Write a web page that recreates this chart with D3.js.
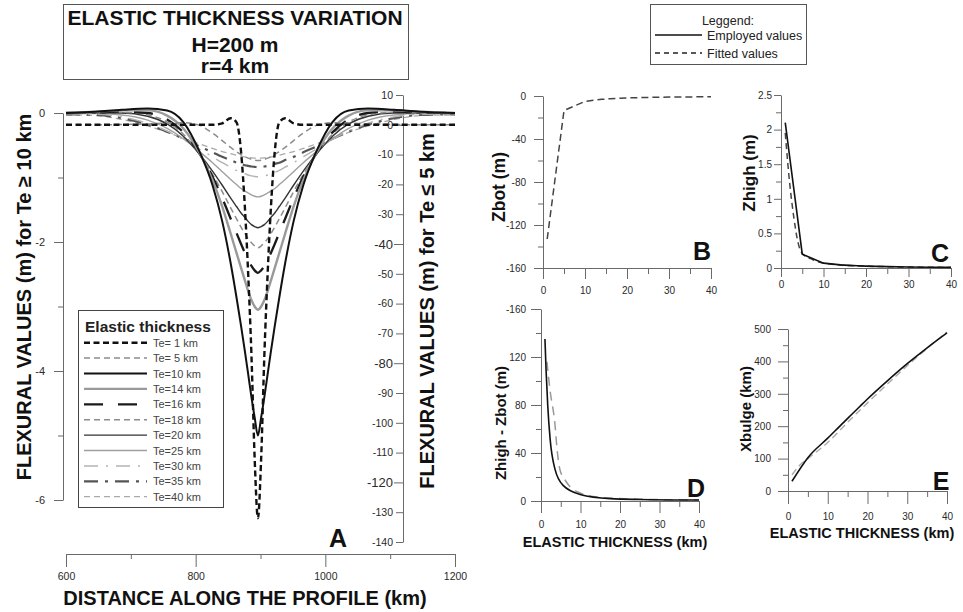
<!DOCTYPE html>
<html>
<head>
<meta charset="utf-8">
<script src="https://cdnjs.cloudflare.com/ajax/libs/d3/7.8.5/d3.min.js"></script>
<style>
  body { margin: 0; background: #fff; }
  svg { display: block; font-family: Arial, "Liberation Sans", sans-serif; }
</style>
</head>
<body>
<svg id="chart" width="963" height="612"></svg>
<script>
// ---- panel A: flexure profiles ----
var profileKm = [600, 646, 686, 726, 756, 781, 806, 826, 841, 854, 863, 870, 876, 881,
                 886, 891, 896, 901, 906, 911, 916, 922, 929, 938, 951, 966, 986, 1011,
                 1036, 1066, 1106, 1146, 1200];

// Te <= 5 km, right axis (m)
var te1 = [0, 0, 0, 0, 0, 0, 0, 0, 0.5, 2.2, 0.8, -9, -28, -50, -77, -112, -132,
           -112, -77, -50, -28, -9, 0.8, 2.2, 0.5, 0, 0, 0, 0, 0, 0, 0, 0];
var te5 = [0, 0, 0.1, 0.3, 0.6, 0.7, -0.2, -2.8, -5.3, -7.6, -9, -10, -10.7, -11.2, -11.6, -11.9, -12,
           -11.9, -11.6, -11.2, -10.7, -10, -9, -7.6, -5.3, -2.8, -0.2, 0.7, 0.6, 0.3, 0.1, 0, 0];
// Te >= 10 km, left axis (m)
var te10 = [0, 0.02, 0.05, 0.07, 0.04, -0.14, -0.6, -1.12, -1.68, -2.33, -2.86, -3.3, -3.7, -4.05, -4.4, -4.72, -5.0,
            -4.72, -4.4, -4.05, -3.7, -3.3, -2.86, -2.33, -1.68, -1.12, -0.6, -0.14, 0.04, 0.07, 0.05, 0.02, 0];
var te14 = [0, 0.02, 0.04, 0.04, -0.04, -0.24, -0.62, -1.04, -1.45, -1.87, -2.17, -2.4, -2.6, -2.76, -2.9, -3.0, -3.05,
            -3.0, -2.9, -2.76, -2.6, -2.4, -2.17, -1.87, -1.45, -1.04, -0.62, -0.24, -0.04, 0.04, 0.04, 0.02, 0];
var te16 = [0, 0.01, 0.02, 0, -0.1, -0.3, -0.63, -0.99, -1.32, -1.64, -1.86, -2.03, -2.17, -2.28, -2.37, -2.44, -2.48,
            -2.44, -2.37, -2.28, -2.17, -2.03, -1.86, -1.64, -1.32, -0.99, -0.63, -0.3, -0.1, 0, 0.02, 0.01, 0];
var te18 = [-0.01, 0, 0.01, -0.03, -0.14, -0.33, -0.64, -0.95, -1.22, -1.47, -1.64, -1.77, -1.87, -1.95, -2.01, -2.06, -2.09,
            -2.06, -2.01, -1.95, -1.87, -1.77, -1.64, -1.47, -1.22, -0.95, -0.64, -0.33, -0.14, -0.03, 0.01, 0, -0.01];
var te20 = [-0.01, 0, 0, -0.05, -0.17, -0.36, -0.64, -0.9, -1.12, -1.32, -1.45, -1.55, -1.62, -1.68, -1.73, -1.76, -1.78,
            -1.76, -1.73, -1.68, -1.62, -1.55, -1.45, -1.32, -1.12, -0.9, -0.64, -0.36, -0.17, -0.05, 0, 0, -0.01];
var te25 = [-0.01, -0.01, -0.03, -0.11, -0.24, -0.4, -0.6, -0.77, -0.91, -1.03, -1.11, -1.17, -1.21, -1.24, -1.27, -1.29, -1.3,
            -1.29, -1.27, -1.24, -1.21, -1.17, -1.11, -1.03, -0.91, -0.77, -0.6, -0.4, -0.24, -0.11, -0.03, -0.01, -0.01];
var te30 = [-0.02, -0.02, -0.06, -0.16, -0.28, -0.41, -0.56, -0.68, -0.77, -0.84, -0.89, -0.92, -0.94, -0.96, -0.975, -0.985, -0.99,
            -0.985, -0.975, -0.96, -0.94, -0.92, -0.89, -0.84, -0.77, -0.68, -0.56, -0.41, -0.28, -0.16, -0.06, -0.02, -0.02];
var te35 = [-0.02, -0.03, -0.08, -0.18, -0.29, -0.4, -0.52, -0.61, -0.68, -0.73, -0.77, -0.79, -0.81, -0.82, -0.83, -0.835, -0.84,
            -0.835, -0.83, -0.82, -0.81, -0.79, -0.77, -0.73, -0.68, -0.61, -0.52, -0.4, -0.29, -0.18, -0.08, -0.03, -0.02];
var te40 = [-0.03, -0.04, -0.1, -0.2, -0.3, -0.39, -0.48, -0.55, -0.6, -0.63, -0.655, -0.67, -0.68, -0.69, -0.695, -0.7, -0.7,
            -0.7, -0.695, -0.69, -0.68, -0.67, -0.655, -0.63, -0.6, -0.55, -0.48, -0.39, -0.3, -0.2, -0.1, -0.04, -0.03];

var profileNames = ['Te= 1 km', 'Te= 5 km', 'Te=10 km', 'Te=14 km', 'Te=16 km', 'Te=18 km',
                    'Te=20 km', 'Te=25 km', 'Te=30 km', 'Te=35 km', 'Te=40 km'];
var profiles = [te1, te5, te10, te14, te16, te18, te20, te25, te30, te35, te40];

// ---- panels B-E: parameters vs elastic thickness ----
var teEmployed = [1, 5, 10, 14, 16, 18, 20, 25, 30, 35, 40];
var zbotFitted = [-133, -13.5, -5, -3.1, -2.5, -2.1, -1.8, -1.3, -1.0, -0.85, -0.7];
var zhighEmployed = [2.1, 0.2, 0.07, 0.045, 0.038, 0.032, 0.027, 0.02, 0.014, 0.011, 0.009];
var teZhighFit = [1, 2, 3, 4, 5, 7.5, 10, 15, 20, 25, 30, 35, 40];
var zhighFitted = [1.95, 1.25, 0.74, 0.37, 0.21, 0.12, 0.07, 0.04, 0.026, 0.019, 0.013, 0.01, 0.008];
var teReliefEmp = [1, 1.3, 1.7, 2.3, 3.5, 5.6, 9.9, 17.5, 25, 40];
var reliefEmployed = [135, 108, 80, 52, 27, 13, 5.5, 2, 1.3, 0.8];
var teReliefFit = [1.5, 2.3, 3.5, 4.1, 4.8, 6.1, 7.3, 10, 15, 20, 30, 40];
var reliefFitted = [116, 92, 65, 42, 26, 17.5, 12, 6.5, 3, 2, 1.2, 0.8];
var xbulgeEmployed = [30, 103, 163, 212, 236, 260, 284, 340, 393, 442, 488];
var teXbulgeFit = [1, 3, 5, 10, 15, 20, 25, 30, 35, 40];
var xbulgeFitted = [50, 80, 100, 150, 212, 272, 330, 387, 440, 491];

(function () {
  'use strict';

  var FONT = 'Arial, "Liberation Sans", sans-serif';
  var TEXT = '#2a2a2a';
  var AXIS = '#6a6a6a';

  var curveStyles = [
    {color: '#111', width: 2.4, dash: '6,3.5'},
    {color: '#8c8c8c', width: 1.5, dash: '6,4'},
    {color: '#111', width: 2, dash: null},
    {color: '#9a9a9a', width: 2.4, dash: null},
    {color: '#1a1a1a', width: 2.3, dash: '19,15'},
    {color: '#8c8c8c', width: 1.5, dash: '6,4'},
    {color: '#333', width: 1.4, dash: null},
    {color: '#a0a0a0', width: 1.4, dash: null},
    {color: '#b4b4b4', width: 1.5, dash: '14,8,2,8'},
    {color: '#555', width: 2.2, dash: '14,7,3,7'},
    {color: '#aaa', width: 1.3, dash: '6,4'}
  ];

  var svg = d3.select('#chart');
  svg.append('rect').attr('width', 963).attr('height', 612).attr('fill', '#fff');

  function styleAxis(g, fontSize) {
    g.attr('font-family', FONT);
    g.select('.domain').attr('stroke', AXIS).attr('stroke-width', 1);
    g.selectAll('.tick line').attr('stroke', AXIS);
    g.selectAll('.tick text').attr('fill', TEXT).style('font-size', fontSize + 'px');
  }

  function addAxis(maker, scale, translate, major, minor, opts) {
    if (minor && minor.length) {
      svg.append('g')
        .attr('transform', translate)
        .call(maker(scale).tickValues(minor).tickSize(opts.minorLen)
              .tickSizeOuter(0).tickFormat(''))
        .call(function(g) {
          styleAxis(g, opts.font);
          g.select('.domain').remove();
        });
    }
    var g = svg.append('g')
      .attr('transform', translate)
      .call(maker(scale).tickValues(major).tickSize(opts.majorLen)
            .tickSizeOuter(0).tickPadding(opts.pad)
            .tickFormat(opts.fmt || function(d) { return String(d); }));
    styleAxis(g, opts.font);
    return g;
  }

  function text(x, y, str, size, opts) {
    opts = opts || {};
    var t = svg.append('text')
      .attr('x', x)
      .attr('y', y)
      .attr('font-size', size)
      .attr('font-weight', opts.bold ? 'bold' : 'normal')
      .attr('text-anchor', opts.anchor || 'middle')
      .attr('fill', opts.color || TEXT)
      .text(str);
    if (opts.rotate) {
      t.attr('transform', 'rotate(-90,' + x + ',' + y + ')');
    }
    return t;
  }

  function strokeStyle(sel, st) {
    sel.attr('fill', 'none')
      .attr('stroke', st.color)
      .attr('stroke-width', st.width)
      .attr('stroke-dasharray', st.dash);
  }

  // ---------------- panel A ----------------
  var xA = d3.scaleLinear().domain([600, 1200]).range([66, 455]);
  var yL = d3.scaleLinear().domain([-6, 0]).range([500, 113]);
  var yR = d3.scaleLinear().domain([-140, 10]).range([542, 95]);

  // title box
  svg.append('rect')
    .attr('x', 63.5).attr('y', 4.5).attr('width', 345).attr('height', 75)
    .attr('fill', '#fff').attr('stroke', '#555');
  text(235, 25, 'ELASTIC THICKNESS VARIATION', 21, {bold: true, color: '#111'});
  text(235, 51.5, 'H=200 m', 21, {bold: true, color: '#111'});
  text(235, 73, 'r=4 km', 21, {bold: true, color: '#111'});

  addAxis(d3.axisLeft, yL, 'translate(63,0)', [-6, -4, -2, 0], [-5, -3, -1],
          {majorLen: 9, minorLen: 5, pad: 9, font: 11});
  var rightAx = addAxis(d3.axisLeft, yR, 'translate(403,0)',
          d3.range(-140, 11, 10), [],
          {majorLen: 7, minorLen: 0, pad: 3, font: 10.5});
  rightAx.selectAll('.tick')
    .filter(function(d) { return d === -40 || d === -80 || d === -120; })
    .call(function(t) {
      t.select('text').style('font-size', '13px');
      t.select('line').attr('x2', -9);
    });
  addAxis(d3.axisBottom, xA, 'translate(0,554)', [600, 800, 1000, 1200], [700, 900, 1100],
          {majorLen: 13, minorLen: 5, pad: 6, font: 10.5});

  var profileGroup = svg.append('g');
  for (var k = profiles.length - 1; k >= 0; k--) {
    var yScale = k < 2 ? yR : yL;
    var line = d3.line()
      .x(function(d, i) { return xA(profileKm[i]); })
      .y((function(s) { return function(d) { return s(d); }; })(yScale))
      .curve(d3.curveMonotoneX);
    profileGroup.append('path')
      .attr('d', line(profiles[k]))
      .call(strokeStyle, curveStyles[k]);
  }

  text(31, 297, 'FLEXURAL VALUES (m) for Te \u2265 10 km', 20, {bold: true, rotate: true, color: '#111'});
  text(434, 311, 'FLEXURAL VALUES (m) for Te \u2264 5 km', 20, {bold: true, rotate: true, color: '#111'});
  text(245, 605, 'DISTANCE ALONG THE PROFILE (km)', 20, {bold: true, color: '#111'});
  text(338, 547, 'A', 25, {bold: true, color: '#111'});

  // legend of panel A
  svg.append('rect')
    .attr('x', 78.5).attr('y', 310.5).attr('width', 145).attr('height', 197)
    .attr('fill', '#fff').attr('stroke', '#444');
  text(85, 331.5, 'Elastic thickness', 15.5, {bold: true, anchor: 'start', color: '#222'});
  var legRows = svg.append('g').selectAll('g')
    .data(profileNames)
    .enter().append('g')
    .attr('transform', function(d, i) { return 'translate(0,' + (342.7 + i * 15.4) + ')'; });
  legRows.append('line')
    .attr('x1', 84).attr('x2', 147).attr('y1', 0).attr('y2', 0)
    .each(function(d, i) { d3.select(this).call(strokeStyle, curveStyles[i]); });
  legRows.append('text')
    .attr('x', 153).attr('y', 4)
    .attr('font-size', 11)
    .attr('fill', '#444')
    .text(function(d) { return d; });

  // ---------------- top-right legend ----------------
  svg.append('rect')
    .attr('x', 650.5).attr('y', 4.5).attr('width', 156).attr('height', 60)
    .attr('fill', '#fff').attr('stroke', '#555');
  text(728, 25, 'Leggend:', 12.5, {color: '#222'});
  svg.append('line').attr('x1', 655).attr('x2', 702).attr('y1', 35).attr('y2', 35)
    .attr('stroke', '#111').attr('stroke-width', 1.4);
  text(707, 40, 'Employed values', 12.5, {anchor: 'start', color: '#222'});
  svg.append('line').attr('x1', 655).attr('x2', 702).attr('y1', 53).attr('y2', 53)
    .attr('stroke', '#222').attr('stroke-width', 1.4).attr('stroke-dasharray', '5,4');
  text(707, 58, 'Fitted values', 12.5, {anchor: 'start', color: '#222'});

  // ---------------- small panels ----------------
  function drawPanel(p) {
    addAxis(d3.axisLeft, p.y, 'translate(' + p.x.range()[0] + ',0)', p.yMajor, p.yMinor,
            {majorLen: p.yTick, minorLen: 5, pad: p.yPad, font: 10, fmt: p.yFmt});
    addAxis(d3.axisBottom, p.x, 'translate(0,' + p.y.range()[0] + ')',
            [0, 10, 20, 30, 40], [5, 15, 25, 35],
            {majorLen: p.xTick, minorLen: 6, pad: p.xPad, font: 10});
    p.series.forEach(function(s) {
      var line = d3.line()
        .x(function(d, i) { return p.x(s.te[i]); })
        .y(function(d) { return p.y(d); })
        .curve(s.curve || d3.curveLinear);
      svg.append('path')
        .attr('d', line(s.values))
        .call(strokeStyle, s.style);
    });
    text(p.labelX, p.labelY, p.label, p.labelSize, {bold: true, rotate: true, color: '#111'});
    text(p.letterX, p.letterY, p.letter, 25, {bold: true, color: '#111'});
    if (p.xTitle) {
      text(p.xTitleX, p.xTitleY, 'ELASTIC THICKNESS (km)', 14.5, {bold: true, color: '#111'});
    }
  }

  var employedStyle = {color: '#111', width: 1.6, dash: null};

  // B
  drawPanel({
    x: d3.scaleLinear().domain([0, 40]).range([543, 711]),
    y: d3.scaleLinear().domain([-160, 0]).range([268, 96]),
    yMajor: [-160, -120, -80, -40, 0], yMinor: [-140, -100, -60, -20],
    yTick: 9, yPad: 8, xTick: 11, xPad: 8,
    series: [{te: teEmployed, values: zbotFitted,
              style: {color: '#444', width: 1.5, dash: '7,4'}}],
    label: 'Zbot (m)', labelSize: 17.5, labelX: 505, labelY: 187,
    letter: 'B', letterX: 702, letterY: 260
  });

  // C
  drawPanel({
    x: d3.scaleLinear().domain([0, 40]).range([781, 951]),
    y: d3.scaleLinear().domain([0, 2.5]).range([268, 95]),
    yMajor: [0, 0.5, 1, 1.5, 2, 2.5], yMinor: [0.25, 0.75, 1.25, 1.75, 2.25],
    yTick: 7, yPad: 2, xTick: 9, xPad: 4,
    series: [
      {te: teZhighFit, values: zhighFitted, curve: d3.curveMonotoneX,
       style: {color: '#444', width: 1.5, dash: '6,4'}},
      {te: teEmployed, values: zhighEmployed, style: employedStyle}
    ],
    label: 'Zhigh    (m)', labelSize: 17, labelX: 755, labelY: 173,
    letter: 'C', letterX: 940, letterY: 262
  });

  // D
  drawPanel({
    x: d3.scaleLinear().domain([0, 40]).range([541, 699]),
    y: d3.scaleLinear().domain([0, 160]).range([501, 309]),
    yMajor: [0, 40, 80, 120, 160], yMinor: [20, 60, 100, 140],
    yFmt: function(d) { return d === 160 ? '-160' : String(d); },
    yTick: 10, yPad: 5, xTick: 12, xPad: 8,
    series: [
      {te: teReliefFit, values: reliefFitted, curve: d3.curveMonotoneX,
       style: {color: '#999', width: 1.5, dash: '9,6'}},
      {te: teReliefEmp, values: reliefEmployed, curve: d3.curveMonotoneX, style: employedStyle}
    ],
    label: 'Zhigh - Zbot (m)', labelSize: 15, labelX: 506, labelY: 423,
    letter: 'D', letterX: 696, letterY: 497,
    xTitle: true, xTitleX: 615, xTitleY: 547
  });

  // E
  drawPanel({
    x: d3.scaleLinear().domain([0, 40]).range([788, 947]),
    y: d3.scaleLinear().domain([0, 500]).range([491, 329]),
    yMajor: [0, 100, 200, 300, 400, 500], yMinor: [50, 150, 250, 350, 450],
    yTick: 10, yPad: 7, xTick: 13, xPad: 9,
    series: [
      {te: teXbulgeFit, values: xbulgeFitted, curve: d3.curveMonotoneX,
       style: {color: '#aaa', width: 1.4, dash: '7,4'}},
      {te: teEmployed, values: xbulgeEmployed, curve: d3.curveMonotoneX, style: employedStyle}
    ],
    label: 'Xbulge (km)', labelSize: 15, labelX: 751, labelY: 409,
    letter: 'E', letterX: 941, letterY: 490,
    xTitle: true, xTitleX: 862, xTitleY: 537.5
  });
})();
</script>
</body>
</html>
